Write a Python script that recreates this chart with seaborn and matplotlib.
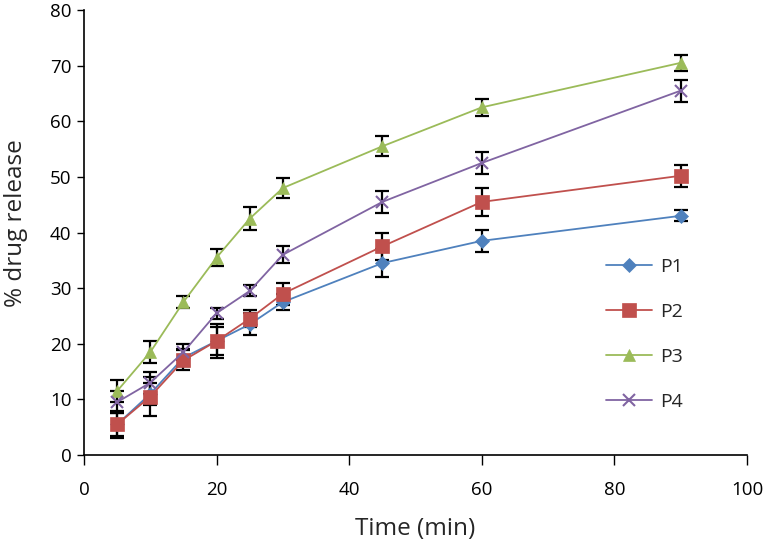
import numpy as np
import pandas as pd
import matplotlib
matplotlib.use("Agg")
import matplotlib.pyplot as plt
import seaborn as sns

time_min = [5, 10, 15, 20, 25, 30, 45, 60, 90]
p1 = [5.5, 11.0, 17.5, 20.5, 23.5, 27.5, 34.5, 38.5, 43.0]
p2 = [5.5, 10.5, 17.0, 20.5, 24.5, 29.0, 37.5, 45.5, 50.2]
p3 = [11.5, 18.5, 27.5, 35.5, 42.5, 48.0, 55.5, 62.5, 70.5]
p4 = [9.5, 13.0, 18.5, 25.5, 29.5, 36.0, 45.5, 52.5, 65.5]
p1_err = [2.0, 2.0, 1.5, 2.5, 2.0, 1.5, 2.5, 2.0, 1.0]
p2_err = [2.5, 3.5, 1.8, 3.0, 1.5, 2.0, 2.5, 2.5, 2.0]
p3_err = [2.0, 2.0, 1.0, 1.5, 2.0, 1.8, 1.8, 1.5, 1.5]
p4_err = [2.0, 2.0, 1.5, 1.0, 1.0, 1.5, 2.0, 2.0, 2.0]
series_names = ["P1", "P2", "P3", "P4"]

values = [p1, p2, p3, p4]
errors = [p1_err, p2_err, p3_err, p4_err]
rows = []
for name, vals, errs in zip(series_names, values, errors):
    for t, v, e in zip(time_min, vals, errs):
        rows.append({"Time": t, "Release": v, "Err": e, "Series": name})
df = pd.DataFrame(rows)

colors = {"P1": "#4F81BD", "P2": "#C0504D", "P3": "#9BBB59", "P4": "#8064A2"}
markers = {"P1": "D", "P2": "s", "P3": "^", "P4": "x"}
msizes = {"P1": 7, "P2": 10, "P3": 9, "P4": 9}

sns.set_style("ticks")
plt.rcParams["font.family"] = ["Open Sans", "DejaVu Sans"]

fig = plt.figure(figsize=(7.64, 5.42), dpi=100)
ax = fig.add_axes([84 / 764, 1 - 455 / 542, (747 - 84) / 764, (455 - 10) / 542])

# error bars first (behind)
for name in series_names:
    sub = df[df["Series"] == name]
    ax.errorbar(sub["Time"], sub["Release"], yerr=sub["Err"], fmt="none",
                ecolor="black", elinewidth=1.6, capsize=5, capthick=1.6, zorder=3)

for name in series_names:
    sub = df[df["Series"] == name]
    sns.lineplot(data=sub, x="Time", y="Release", ax=ax, color=colors[name],
                 marker=markers[name], markersize=msizes[name],
                 markeredgecolor=colors[name], markeredgewidth=1.5 if name == "P4" else 0.5,
                 linewidth=1.3, label=name, zorder=4, errorbar=None)

ax.set_xlim(0, 100)
ax.set_ylim(0, 80)
ax.set_xticks(np.arange(0, 101, 20))
ax.set_yticks(np.arange(0, 81, 10))
ax.tick_params(axis="both", labelsize=13.5, direction="out", width=1, colors="black")
ax.tick_params(axis="x", length=7, pad=12)
ax.tick_params(axis="y", length=5, pad=4)
ax.set_xlabel("Time (min)", fontsize=17.5, labelpad=13)
ax.set_ylabel("% drug release", fontsize=17.5)
ax.yaxis.set_label_coords(-0.084, 0.52)
for s in ["top", "right"]:
    ax.spines[s].set_visible(False)
for s in ["left", "bottom"]:
    ax.spines[s].set_linewidth(1.2)
    ax.spines[s].set_color("black")

leg = ax.legend(loc="upper left", bbox_to_anchor=(588 / 764, 1 - 240 / 542),
                bbox_transform=fig.transFigure, frameon=False,
                fontsize=14, labelspacing=1.4, handlelength=2.4, handletextpad=0.4)

fig.savefig("out.png", dpi=100)
